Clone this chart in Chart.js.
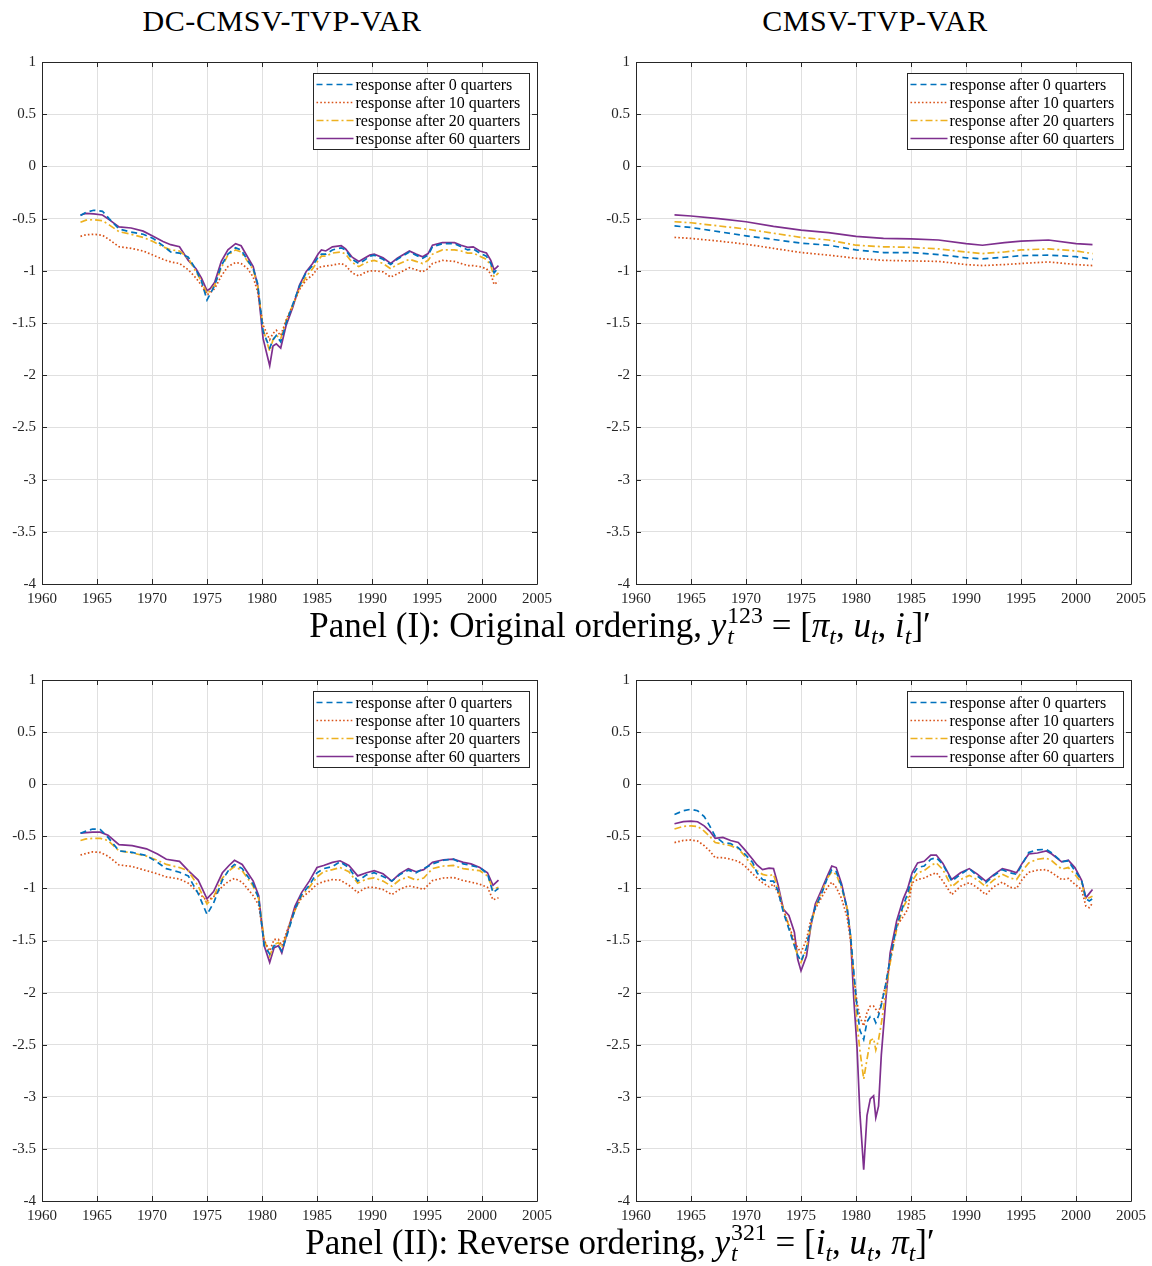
<!DOCTYPE html>
<html>
<head>
<meta charset="utf-8">
<script src="https://cdn.jsdelivr.net/npm/chart.js@4.4.1/dist/chart.umd.min.js"></script>
<style>
  body { margin: 0; background: #fff; }
  #page { position: relative; width: 1152px; height: 1266px; overflow: hidden; font-family: 'Liberation Serif', 'Times New Roman', serif; color: #000; }
  .plot { position: absolute; }
  .title { position: absolute; width: 560px; text-align: center; font-size: 30px; letter-spacing: 0.6px; line-height: 1; }
  .caption { position: absolute; left: 0; width: 1240px; text-align: center; font-size: 35px; line-height: 1; white-space: nowrap; }
  .caption sub { font-size: 0.68em; vertical-align: -0.3em; line-height: 0; }
  .ss { display: inline-block; vertical-align: -0.32em; font-size: 0.68em; line-height: 0.9; margin-left: 1px; text-align: left; }
  .ss span { display: block; }
</style>
</head>
<body>
<div id="page">
  <div class="title" id="title0" style="left:2px; top:6px;"></div>
  <div class="title" id="title1" style="left:595px; top:6px;"></div>
  <canvas class="plot" id="tl" width="560" height="567" style="left:0px; top:47px;"></canvas>
  <canvas class="plot" id="tr" width="560" height="567" style="left:594px; top:47px;"></canvas>
  <div class="caption" style="top:605px;">Panel (I): Original ordering, <i>y</i><span class="ss"><span>123</span><span><i>t</i></span></span> = [<i>π</i><sub><i>t</i></sub>, <i>u</i><sub><i>t</i></sub>, <i>i</i><sub><i>t</i></sub>]′</div>
  <canvas class="plot" id="bl" width="560" height="566" style="left:0px; top:665px;"></canvas>
  <canvas class="plot" id="br" width="560" height="566" style="left:594px; top:665px;"></canvas>
  <div class="caption" style="top:1222px;">Panel (II): Reverse ordering, <i>y</i><span class="ss"><span>321</span><span><i>t</i></span></span> = [<i>i</i><sub><i>t</i></sub>, <i>u</i><sub><i>t</i></sub>, <i>π</i><sub><i>t</i></sub>]′</div>
</div>
<script>
// titles, legend and ticks
const panelTitles = ['DC-CMSV-TVP-VAR', 'CMSV-TVP-VAR'];
const legendLabels = ['response after 0 quarters', 'response after 10 quarters', 'response after 20 quarters', 'response after 60 quarters'];
const yearTicks = [1960, 1965, 1970, 1975, 1980, 1985, 1990, 1995, 2000, 2005];
const valueTicks = [1, 0.5, 0, -0.5, -1, -1.5, -2, -2.5, -3, -3.5, -4];

// Panel I, DC-CMSV-TVP-VAR
const tlYears = [1963.5, 1964.0, 1964.7, 1965.5, 1966.1, 1967.0, 1968.1, 1969.2, 1970.1, 1971.0, 1971.7, 1972.5, 1973.3, 1974.0, 1974.5, 1975.0,
  1975.3, 1975.7, 1976.3, 1976.9, 1977.6, 1978.1, 1978.7, 1979.2, 1979.6, 1980.1, 1980.7, 1981.0, 1981.3, 1981.7, 1982.2, 1982.8,
  1983.4, 1984.0, 1984.6, 1985.1, 1985.4, 1985.8, 1986.4, 1987.2, 1987.6, 1988.2, 1988.8, 1989.3, 1989.8, 1990.2, 1991.0, 1991.7,
  1992.3, 1993.4, 1994.0, 1994.6, 1995.1, 1995.5, 1996.4, 1997.5, 1998.1, 1998.7, 1999.2, 1999.8, 2000.4, 2000.8, 2001.1, 2001.5];
const tlResp0 = [-0.47, -0.44, -0.42, -0.43, -0.50, -0.60, -0.63, -0.65, -0.69, -0.76, -0.82, -0.83, -0.87, -0.99, -1.10, -1.28,
  -1.22, -1.14, -0.95, -0.84, -0.78, -0.80, -0.90, -0.98, -1.12, -1.58, -1.74, -1.66, -1.62, -1.68, -1.50, -1.32,
  -1.15, -1.02, -0.95, -0.87, -0.84, -0.84, -0.80, -0.78, -0.80, -0.89, -0.93, -0.90, -0.86, -0.85, -0.89, -0.94,
  -0.89, -0.82, -0.85, -0.88, -0.85, -0.77, -0.74, -0.74, -0.77, -0.80, -0.79, -0.83, -0.86, -0.93, -1.02, -0.97];
const tlResp10 = [-0.67, -0.655, -0.65, -0.66, -0.70, -0.77, -0.785, -0.81, -0.85, -0.89, -0.915, -0.93, -0.99, -1.07, -1.14, -1.23,
  -1.21, -1.17, -1.05, -0.96, -0.92, -0.93, -0.98, -1.06, -1.20, -1.52, -1.66, -1.60, -1.57, -1.62, -1.47, -1.33,
  -1.18, -1.09, -1.04, -0.97, -0.96, -0.955, -0.945, -0.93, -0.95, -1.02, -1.05, -1.02, -1.00, -1.00, -1.01, -1.06,
  -1.03, -0.97, -0.99, -1.01, -0.98, -0.93, -0.90, -0.91, -0.93, -0.95, -0.95, -0.96, -0.98, -1.03, -1.13, -1.10];
const tlResp20 = [-0.535, -0.515, -0.51, -0.52, -0.56, -0.625, -0.65, -0.68, -0.72, -0.77, -0.80, -0.81, -0.88, -1.01, -1.10, -1.22,
  -1.19, -1.14, -0.97, -0.85, -0.80, -0.82, -0.91, -0.99, -1.14, -1.56, -1.77, -1.66, -1.62, -1.65, -1.48, -1.33,
  -1.17, -1.06, -0.98, -0.90, -0.86, -0.86, -0.83, -0.82, -0.84, -0.92, -0.96, -0.93, -0.91, -0.90, -0.93, -0.98,
  -0.94, -0.89, -0.91, -0.93, -0.90, -0.84, -0.80, -0.80, -0.81, -0.83, -0.83, -0.86, -0.89, -0.95, -1.06, -1.02];
const tlResp60 = [-0.465, -0.45, -0.455, -0.465, -0.51, -0.58, -0.59, -0.62, -0.67, -0.72, -0.75, -0.77, -0.90, -0.98, -1.07, -1.19,
  -1.17, -1.11, -0.91, -0.80, -0.74, -0.76, -0.87, -0.96, -1.14, -1.65, -1.91, -1.72, -1.70, -1.74, -1.52, -1.35,
  -1.14, -1.01, -0.93, -0.84, -0.80, -0.81, -0.77, -0.76, -0.79, -0.87, -0.91, -0.88, -0.85, -0.84, -0.875, -0.93,
  -0.88, -0.81, -0.84, -0.865, -0.835, -0.755, -0.73, -0.73, -0.755, -0.775, -0.77, -0.81, -0.83, -0.90, -0.99, -0.95];

// Panel I, CMSV-TVP-VAR
const trYears = [1963.5, 1965.0, 1967.5, 1970.0, 1972.5, 1975.0, 1977.5, 1980.0, 1982.5, 1985.0, 1987.5, 1990.0, 1991.5, 1993.5, 1995.0, 1997.5, 2000.0, 2001.5];
const trResp0 = [-0.57, -0.585, -0.625, -0.665, -0.70, -0.735, -0.755, -0.80, -0.825, -0.825, -0.845, -0.875, -0.885, -0.87, -0.855, -0.85, -0.865, -0.89];
const trResp10 = [-0.68, -0.69, -0.715, -0.745, -0.785, -0.825, -0.85, -0.88, -0.90, -0.905, -0.91, -0.94, -0.95, -0.94, -0.93, -0.915, -0.94, -0.95];
const trResp20 = [-0.53, -0.54, -0.57, -0.60, -0.64, -0.68, -0.705, -0.755, -0.77, -0.775, -0.79, -0.82, -0.835, -0.82, -0.80, -0.79, -0.81, -0.835];
const trResp60 = [-0.465, -0.475, -0.50, -0.53, -0.575, -0.61, -0.635, -0.67, -0.69, -0.695, -0.705, -0.74, -0.755, -0.73, -0.715, -0.705, -0.74, -0.75];

// Panel II, DC-CMSV-TVP-VAR
const blYears = [1963.5, 1964.0, 1964.6, 1965.3, 1966.0, 1967.0, 1968.2, 1969.5, 1970.5, 1971.3, 1972.5, 1973.3, 1974.2, 1975.0, 1975.6, 1976.4,
  1977.0, 1977.5, 1978.2, 1979.2, 1979.7, 1980.2, 1980.7, 1981.1, 1981.5, 1981.8, 1982.3, 1983.0, 1983.6, 1984.3, 1985.0, 1985.6,
  1986.4, 1987.1, 1987.9, 1988.7, 1989.5, 1990.2, 1991.0, 1991.8, 1992.5, 1993.3, 1994.0, 1994.7, 1995.5, 1996.5, 1997.4, 1998.3,
  1999.0, 1999.8, 2000.5, 2001.0, 2001.5];
const blResp0 = [-0.47, -0.45, -0.43, -0.435, -0.51, -0.64, -0.655, -0.685, -0.75, -0.81, -0.845, -0.88, -1.05, -1.25, -1.14, -0.92,
  -0.82, -0.77, -0.81, -0.96, -1.10, -1.55, -1.63, -1.55, -1.55, -1.60, -1.44, -1.20, -1.06, -0.97, -0.85, -0.81,
  -0.79, -0.745, -0.80, -0.93, -0.87, -0.85, -0.885, -0.93, -0.87, -0.825, -0.85, -0.81, -0.765, -0.73, -0.72, -0.765,
  -0.78, -0.80, -0.86, -1.04, -1.00];
const blResp10 = [-0.68, -0.665, -0.65, -0.655, -0.69, -0.775, -0.79, -0.83, -0.86, -0.89, -0.91, -0.95, -1.04, -1.12, -1.08, -0.98,
  -0.93, -0.905, -0.94, -1.07, -1.16, -1.50, -1.60, -1.49, -1.49, -1.55, -1.40, -1.20, -1.09, -1.03, -0.96, -0.935,
  -0.915, -0.92, -0.97, -1.04, -0.99, -0.99, -1.01, -1.06, -1.01, -0.975, -0.99, -1.01, -0.925, -0.90, -0.895, -0.925,
  -0.94, -0.96, -0.99, -1.11, -1.09];
const blResp20 = [-0.54, -0.525, -0.52, -0.52, -0.54, -0.64, -0.66, -0.69, -0.73, -0.77, -0.80, -0.83, -0.98, -1.15, -1.08, -0.90,
  -0.83, -0.79, -0.83, -0.98, -1.10, -1.49, -1.65, -1.54, -1.52, -1.57, -1.42, -1.21, -1.07, -0.99, -0.89, -0.84,
  -0.82, -0.80, -0.84, -0.95, -0.91, -0.90, -0.93, -0.98, -0.92, -0.89, -0.92, -0.90, -0.81, -0.785, -0.78, -0.81,
  -0.82, -0.83, -0.88, -1.01, -0.99];
const blResp60 = [-0.47, -0.465, -0.46, -0.46, -0.49, -0.58, -0.59, -0.62, -0.67, -0.72, -0.74, -0.83, -0.92, -1.10, -1.03, -0.85,
  -0.78, -0.73, -0.77, -0.93, -1.07, -1.55, -1.71, -1.57, -1.55, -1.62, -1.42, -1.17, -1.04, -0.93, -0.80, -0.78,
  -0.75, -0.735, -0.78, -0.88, -0.85, -0.83, -0.86, -0.93, -0.86, -0.81, -0.84, -0.82, -0.75, -0.725, -0.72, -0.75,
  -0.765, -0.80, -0.85, -0.97, -0.92];

// Panel II, CMSV-TVP-VAR
const brYears = [1963.5, 1964.3, 1965.0, 1965.6, 1966.2, 1966.7, 1967.2, 1967.9, 1968.6, 1969.3, 1969.9, 1970.6, 1971.0, 1971.5, 1972.1, 1972.5,
  1972.9, 1973.4, 1973.9, 1974.4, 1974.7, 1975.0, 1975.5, 1975.9, 1976.3, 1976.8, 1977.4, 1977.8, 1978.2, 1978.7, 1979.2, 1979.5,
  1979.8, 1980.1, 1980.35, 1980.7, 1981.0, 1981.3, 1981.6, 1981.8, 1982.05, 1982.3, 1982.7, 1983.1, 1983.7, 1984.3, 1984.7, 1985.1,
  1985.6, 1986.2, 1986.8, 1987.3, 1987.9, 1988.7, 1989.5, 1990.3, 1991.0, 1991.8, 1992.5, 1993.3, 1994.0, 1994.6, 1995.1, 1995.7,
  1996.5, 1997.3, 1997.8, 1998.7, 1999.3, 1999.9, 2000.5, 2000.9, 2001.2, 2001.5];
const brResp0 = [-0.29, -0.255, -0.24, -0.255, -0.31, -0.40, -0.50, -0.56, -0.57, -0.61, -0.67, -0.75, -0.85, -0.915, -0.93, -0.93,
  -1.02, -1.23, -1.39, -1.55, -1.64, -1.70, -1.57, -1.33, -1.18, -1.07, -0.90, -0.82, -0.84, -0.98, -1.20, -1.45,
  -1.80, -2.15, -2.36, -2.45, -2.28, -2.23, -2.24, -2.29, -2.22, -2.12, -1.92, -1.68, -1.36, -1.16, -1.05, -0.88,
  -0.80, -0.785, -0.72, -0.705, -0.77, -0.93, -0.865, -0.81, -0.88, -0.945, -0.88, -0.82, -0.85, -0.865, -0.77, -0.655,
  -0.63, -0.625, -0.66, -0.745, -0.735, -0.83, -0.92, -1.10, -1.12, -1.10];
const brResp10 = [-0.56, -0.54, -0.535, -0.545, -0.59, -0.64, -0.705, -0.705, -0.72, -0.74, -0.785, -0.86, -0.90, -0.945, -0.985, -0.96,
  -1.04, -1.20, -1.36, -1.50, -1.57, -1.615, -1.49, -1.30, -1.20, -1.10, -0.99, -0.94, -0.99, -1.10, -1.28, -1.50,
  -1.85, -2.10, -2.23, -2.32, -2.19, -2.13, -2.13, -2.16, -2.19, -2.10, -1.92, -1.68, -1.36, -1.27, -1.20, -0.945,
  -0.915, -0.90, -0.87, -0.85, -0.93, -1.06, -0.98, -0.945, -0.99, -1.06, -0.985, -0.94, -0.99, -1.00, -0.915, -0.845,
  -0.825, -0.82, -0.85, -0.915, -0.905, -0.96, -1.01, -1.17, -1.185, -1.14];
const brResp20 = [-0.43, -0.405, -0.40, -0.405, -0.45, -0.50, -0.56, -0.575, -0.59, -0.62, -0.69, -0.79, -0.83, -0.865, -0.88, -0.865,
  -1.00, -1.20, -1.36, -1.55, -1.64, -1.71, -1.58, -1.36, -1.18, -1.06, -0.90, -0.84, -0.865, -1.00, -1.19, -1.45,
  -1.85, -2.30, -2.55, -2.83, -2.64, -2.46, -2.44, -2.55, -2.45, -2.30, -2.00, -1.72, -1.39, -1.18, -1.10, -0.93,
  -0.85, -0.83, -0.78, -0.755, -0.82, -0.985, -0.915, -0.875, -0.915, -0.985, -0.92, -0.865, -0.90, -0.915, -0.835, -0.755,
  -0.72, -0.71, -0.735, -0.815, -0.80, -0.865, -0.945, -1.105, -1.09, -1.075];
const brResp60 = [-0.38, -0.36, -0.355, -0.36, -0.40, -0.45, -0.52, -0.51, -0.54, -0.56, -0.63, -0.72, -0.775, -0.82, -0.805, -0.81,
  -0.96, -1.20, -1.26, -1.42, -1.68, -1.79, -1.65, -1.36, -1.15, -1.03, -0.88, -0.785, -0.80, -0.96, -1.20, -1.455,
  -2.06, -2.54, -3.15, -3.70, -3.18, -3.02, -2.99, -3.20, -3.09, -2.60, -2.08, -1.62, -1.31, -1.10, -1.00, -0.85,
  -0.755, -0.74, -0.68, -0.68, -0.76, -0.915, -0.85, -0.81, -0.86, -0.93, -0.87, -0.81, -0.83, -0.85, -0.76, -0.67,
  -0.66, -0.64, -0.67, -0.745, -0.73, -0.80, -0.92, -1.09, -1.05, -1.01];

const seriesColors = ['#0072BD', '#D95319', '#EDB120', '#7E2F8E'];
const seriesDashes = [[6, 4], [1.6, 2.2], [7, 3, 2, 3], []];
const serif = "'Liberation Serif', 'Times New Roman', serif";
const axisColor = '#262626';

document.getElementById('title0').textContent = panelTitles[0];
document.getElementById('title1').textContent = panelTitles[1];

// box round the axes with inward ticks, like matlab
const boxPlugin = {
  id: 'box',
  afterDatasetsDraw(chart) {
    const ctx = chart.ctx;
    const a = chart.chartArea;
    const xs = chart.scales.x, ys = chart.scales.y;
    ctx.save();
    ctx.strokeStyle = axisColor;
    ctx.lineWidth = 1;
    ctx.beginPath();
    ctx.rect(Math.round(a.left) + 0.5, Math.round(a.top) + 0.5, Math.round(a.right - a.left), Math.round(a.bottom - a.top));
    yearTicks.forEach(v => {
      const px = Math.round(xs.getPixelForValue(v)) + 0.5;
      ctx.moveTo(px, a.bottom); ctx.lineTo(px, a.bottom - 5);
      ctx.moveTo(px, a.top); ctx.lineTo(px, a.top + 5);
    });
    valueTicks.forEach(v => {
      const py = Math.round(ys.getPixelForValue(v)) + 0.5;
      ctx.moveTo(a.left, py); ctx.lineTo(a.left + 5, py);
      ctx.moveTo(a.right, py); ctx.lineTo(a.right - 5, py);
    });
    ctx.stroke();
    ctx.restore();
  },
  afterDraw(chart) {
    // legend box in the top right corner
    const ctx = chart.ctx;
    const a = chart.chartArea;
    const w = 216, h = 76;
    const left = Math.round(a.right - 8 - w) + 0.5;
    const top = Math.round(a.top + 11) + 0.5;
    ctx.save();
    ctx.fillStyle = '#fff';
    ctx.fillRect(left, top, w, h);
    ctx.strokeStyle = axisColor;
    ctx.lineWidth = 1;
    ctx.strokeRect(left, top, w, h);
    ctx.font = '16px ' + serif;
    ctx.textBaseline = 'middle';
    chart.data.datasets.forEach((ds, i) => {
      const y = top + 11 + i * 18;
      ctx.strokeStyle = ds.borderColor;
      ctx.lineWidth = 1.6;
      ctx.setLineDash(ds.borderDash);
      ctx.beginPath();
      ctx.moveTo(left + 3, y);
      ctx.lineTo(left + 40, y);
      ctx.stroke();
      ctx.setLineDash([]);
      ctx.fillStyle = '#000';
      ctx.fillText(ds.label, left + 42, y + 1);
    });
    ctx.restore();
  }
};

function makeChart(id, years, series) {
  const datasets = series.map((vals, i) => ({
    label: legendLabels[i],
    data: years.map((yr, k) => ({ x: yr, y: vals[k] })),
    borderColor: seriesColors[i],
    borderDash: seriesDashes[i],
    borderWidth: 1.7,
    pointRadius: 0,
    fill: false,
    tension: 0
  }));
  return new Chart(document.getElementById(id), {
    type: 'line',
    data: { datasets: datasets },
    options: {
      responsive: false,
      animation: false,
      devicePixelRatio: 1,
      layout: { padding: { top: 9, right: 23, left: 0, bottom: 0 } },
      plugins: { legend: { display: false }, tooltip: { enabled: false } },
      scales: {
        x: {
          type: 'linear', min: 1960, max: 2005,
          afterBuildTicks: s => { s.ticks = yearTicks.map(v => ({ value: v })); },
          afterFit: s => { s.height = 30; },
          ticks: { callback: v => String(v), font: { family: serif, size: 15 }, color: axisColor, padding: 6, maxRotation: 0, autoSkip: false },
          grid: { color: '#e0e0e0', drawTicks: false },
          border: { display: false }
        },
        y: {
          type: 'linear', min: -4, max: 1,
          afterBuildTicks: s => { s.ticks = valueTicks.map(v => ({ value: v })); },
          afterFit: s => { s.width = 42; },
          ticks: { callback: v => String(v), font: { family: serif, size: 15 }, color: axisColor, padding: 6, autoSkip: false },
          grid: { color: '#e0e0e0', drawTicks: false },
          border: { display: false }
        }
      }
    },
    plugins: [boxPlugin]
  });
}

makeChart('tl', tlYears, [tlResp0, tlResp10, tlResp20, tlResp60]);
makeChart('tr', trYears, [trResp0, trResp10, trResp20, trResp60]);
makeChart('bl', blYears, [blResp0, blResp10, blResp20, blResp60]);
makeChart('br', brYears, [brResp0, brResp10, brResp20, brResp60]);
</script>
</body>
</html>
